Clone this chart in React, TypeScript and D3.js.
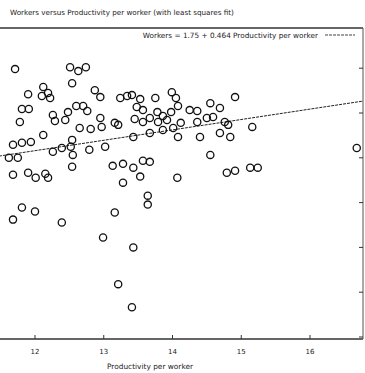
import * as d3 from "d3";
import { useEffect, useRef } from "react";

// productivity per worker (x) and workers (y)
const productivity = [
  11.71, 12.51, 12.63, 12.74, 12.54, 11.9, 12.12, 12.19, 12.22, 12.1,
  12.87, 12.95, 11.81, 11.91, 11.78, 12.26, 12.29, 12.44, 12.48, 12.6,
  12.7, 12.76, 12.95, 12.97, 12.65, 12.81, 13.16, 12.12, 11.68, 11.81,
  11.94, 12.54, 12.26, 12.39, 12.52, 12.55, 12.79, 13.02, 11.62, 11.75,
  12.54, 11.68, 11.9, 12.01, 12.15, 12.19, 13.13, 13.28, 13.43, 13.57,
  13.67, 13.53, 13.28, 13.64, 13.64, 14.07, 13.24, 13.34, 13.41, 13.53,
  13.75, 13.99, 14.05, 13.48, 13.57, 13.78, 13.86, 13.98, 14.08, 13.45,
  13.57, 13.67, 13.79, 13.92, 13.21, 13.43, 13.67, 13.86, 14.01, 14.08,
  14.12, 14.25, 14.36, 14.55, 14.69, 14.91, 14.36, 14.5, 14.59, 14.76,
  14.81, 14.4, 14.69, 14.84, 15.16, 14.55, 16.68, 14.79, 14.91, 15.13,
  15.24, 11.81, 12.0, 11.68, 12.39, 13.16, 12.99, 13.43, 13.21, 13.41,
];
const workers = [
  10.96, 11.04, 10.87, 11.04, 10.33, 9.84, 10.16, 9.89, 9.67, 9.76,
  10.02, 9.71, 9.18, 9.18, 8.6, 8.91, 8.64, 8.69, 9.04, 9.31,
  9.31, 9.09, 8.78, 8.38, 8.33, 8.29, 8.56, 8.02, 7.58, 7.67,
  7.71, 7.8, 7.27, 7.44, 7.49, 7.13, 7.36, 7.49, 7.0, 7.0,
  6.6, 6.24, 6.33, 6.11, 6.29, 6.11, 6.64, 6.73, 6.56, 6.87,
  6.82, 6.16, 5.89, 5.31, 4.91, 6.11, 9.67, 9.76, 9.8, 9.62,
  9.67, 9.93, 9.67, 9.27, 9.13, 9.04, 8.87, 9.04, 9.31, 8.73,
  8.6, 8.78, 8.6, 8.69, 8.47, 7.93, 8.11, 8.24, 8.33, 7.93,
  8.56, 9.13, 9.09, 9.44, 9.22, 9.71, 8.6, 8.78, 8.82, 8.6,
  8.47, 7.93, 8.11, 7.93, 8.38, 7.13, 7.44, 6.33, 6.42, 6.56,
  6.56, 4.78, 4.6, 4.24, 4.11, 4.56, 3.44, 3.0, 1.36, 0.33,
];
const xTicks = [12, 13, 14, 15, 16];
const yTicks = [-1, 1, 3, 5, 7, 9, 11];
const intercept = 1.75;
const slope = 0.464;

const W = 365;
const H = 373;
const top = 28;
const bottom = 339;
const right = 363;

export default function App() {
  const ref = useRef<SVGSVGElement>(null);

  useEffect(() => {
    const svg = d3.select(ref.current);
    svg.selectAll("*").remove();

    const x = d3.scaleLinear().domain([12, 16]).range([35, 310]);
    const y = d3.scaleLinear().domain([-1, 9]).range([337, 113]);
    const xMin = x.invert(-5);
    const xMax = x.invert(right);

    const font = "DejaVu Sans, sans-serif";

    svg
      .append("text")
      .attr("x", 10)
      .attr("y", 15)
      .attr("font-family", font)
      .attr("font-size", 7.2)
      .attr("fill", "#222")
      .text("Workers versus Productivity per worker (with least squares fit)");

    // frame
    svg.append("line").attr("x1", 0).attr("x2", right).attr("y1", top).attr("y2", top)
      .attr("stroke", "#333").attr("stroke-width", 1.4);
    svg.append("line").attr("x1", 0).attr("x2", right).attr("y1", bottom).attr("y2", bottom)
      .attr("stroke", "#333").attr("stroke-width", 1.4);
    svg.append("line").attr("x1", right).attr("x2", right).attr("y1", top).attr("y2", bottom)
      .attr("stroke", "#555").attr("stroke-width", 1);

    // bottom ticks
    const xa = svg.append("g");
    xa.selectAll("line").data(xTicks).join("line")
      .attr("x1", (d) => x(d)).attr("x2", (d) => x(d))
      .attr("y1", bottom).attr("y2", bottom - 4)
      .attr("stroke", "#333");
    xa.selectAll("text").data(xTicks).join("text")
      .attr("x", (d) => x(d)).attr("y", bottom + 15)
      .attr("text-anchor", "middle")
      .attr("font-family", font).attr("font-size", 7)
      .attr("fill", "#222")
      .text((d) => d);

    // right ticks
    svg.append("g").selectAll("line").data(yTicks).join("line")
      .attr("x1", right).attr("x2", right - 4)
      .attr("y1", (d) => y(d)).attr("y2", (d) => y(d))
      .attr("stroke", "#333");

    svg.append("text")
      .attr("x", 150).attr("y", 369)
      .attr("text-anchor", "middle")
      .attr("font-family", font).attr("font-size", 7.4)
      .attr("fill", "#222")
      .text("Productivity per worker");

    // fit line
    svg.append("line")
      .attr("x1", x(xMin)).attr("y1", y(intercept + slope * xMin))
      .attr("x2", x(xMax)).attr("y2", y(intercept + slope * xMax))
      .attr("stroke", "#222").attr("stroke-width", 1)
      .attr("stroke-dasharray", "3,1");

    // legend
    svg.append("text")
      .attr("x", 318).attr("y", 38)
      .attr("text-anchor", "end")
      .attr("font-family", font).attr("font-size", 7.3)
      .attr("fill", "#222")
      .text(`Workers = ${intercept} + ${slope} Productivity per worker`);
    svg.append("line")
      .attr("x1", 325).attr("x2", 355).attr("y1", 35).attr("y2", 35)
      .attr("stroke", "#444").attr("stroke-width", 1)
      .attr("stroke-dasharray", "3,1");

    // points
    svg.append("g").selectAll("circle").data(productivity).join("circle")
      .attr("cx", (d) => x(d))
      .attr("cy", (_d, i) => y(workers[i]))
      .attr("r", 3.6)
      .attr("fill", "none")
      .attr("stroke", "#111")
      .attr("stroke-width", 1.3);
  }, []);

  return (
    <svg
      ref={ref}
      width={W}
      height={H}
      style={{ position: "absolute", left: 0, top: 0, background: "#fff" }}
    />
  );
}
